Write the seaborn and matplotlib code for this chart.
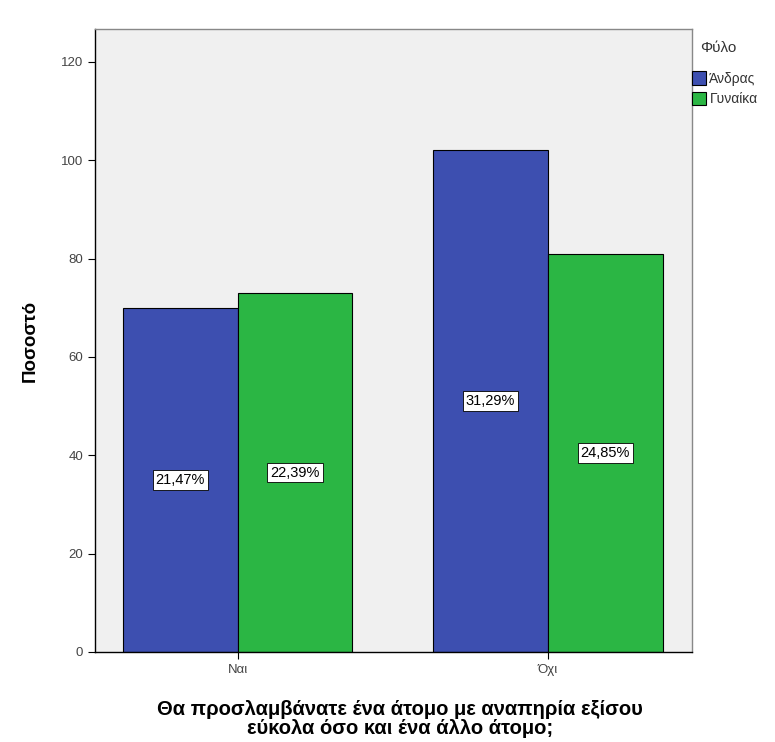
import matplotlib
matplotlib.use("Agg")
import matplotlib.pyplot as plt
import seaborn as sns
import pandas as pd

answers = ["Ναι", "Όχι"]
genders = ["Άνδρας", "Γυναίκα"]
counts_men = [70, 102]
counts_women = [73, 81]

colors = ["#3d4fb0", "#2bb644"]

df = pd.DataFrame({
    "answer": answers * 2,
    "gender": [genders[0]] * 2 + [genders[1]] * 2,
    "count": counts_men + counts_women,
})
total = df["count"].sum()

sns.set_style("white")
plt.rcParams["font.family"] = ["Liberation Sans", "DejaVu Sans"]

fig = plt.figure(figsize=(7.75, 7.42), dpi=100)
ax = fig.add_axes([0.1226, 0.1213, 0.7704, 0.8396])
ax.set_facecolor("#f0f0f0")

sns.barplot(data=df, x="answer", y="count", hue="gender", order=answers,
            hue_order=genders, palette=colors, width=0.74, edgecolor="black",
            linewidth=0.8, saturation=1, ax=ax, legend=True)

for cont in ax.containers:
    labs = [f"{b.get_height() / total * 100:.2f}%".replace(".", ",") for b in cont]
    ax.bar_label(cont, labels=labs, label_type="center", fontsize=10.5, color="black",
                 bbox=dict(boxstyle="square,pad=0.2", fc="white", ec="black", lw=0.6))

ax.set_xlim(-0.46, 1.465)
ax.set_ylim(0, 126.7)
ax.set_yticks([0, 20, 40, 60, 80, 100, 120])
ax.tick_params(axis="both", direction="out", length=5, width=0.8, labelsize=9.5,
               colors="black", left=True, bottom=True)
for lab in ax.get_xticklabels() + ax.get_yticklabels():
    lab.set_color("#444444")

for side in ["left", "bottom"]:
    ax.spines[side].set_color("black")
    ax.spines[side].set_linewidth(1.0)
for side in ["top", "right"]:
    ax.spines[side].set_color("#888888")
    ax.spines[side].set_linewidth(1.0)

ax.set_ylabel("Ποσοστό", fontsize=13.5, fontweight="bold", labelpad=16, color="black")
ax.set_xlabel("Θα προσλαμβάνατε ένα άτομο με αναπηρία εξίσου\nεύκολα όσο και ένα άλλο άτομο;",
              fontsize=14.5, fontweight="bold", linespacing=1.0, color="black")
ax.xaxis.set_label_coords(0.511, -0.077)

fig.text(718 / 775, 1 - 48 / 742, "Φύλο", fontsize=11, color="#333333",
         ha="center", va="center")
leg = ax.legend(loc="upper left", bbox_to_anchor=(1.0, 0.932),
                frameon=False, fontsize=10,
                handlelength=1.0, handleheight=1.1, handletextpad=0.25,
                labelspacing=0.45, borderaxespad=0, borderpad=0)
for t in leg.get_texts():
    t.set_color("#333333")

fig.savefig("out.png", dpi=100, facecolor="white")
